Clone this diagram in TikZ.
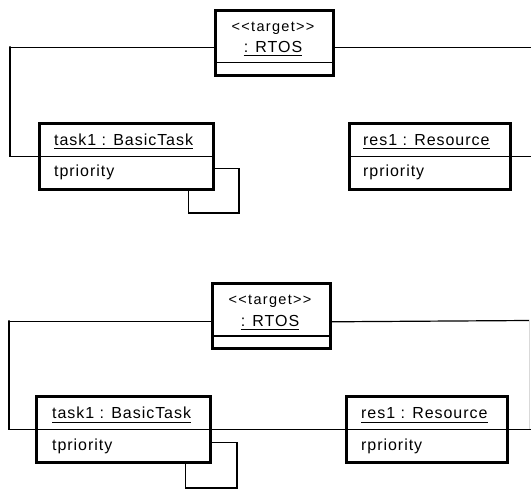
\documentclass[tikz,border=0pt]{standalone}
\usepackage{fontspec}
\newfontfamily\umlfont{Liberation Sans}[LetterSpace=6]
\newfontfamily\stereofont{Liberation Sans}[LetterSpace=9]
\begin{document}
\begin{tikzpicture}[x=1pt,y=-1pt,
  objbox/.style={draw=black,line width=2.6pt,fill=white,inner sep=0pt,anchor=north west},
  sepline/.style={line width=1.1pt},
  conn/.style={line width=1.2pt},
  uline/.style={line width=1pt},
  lbl/.style={inner sep=0pt,anchor=base west,font=\umlfont\fontsize{16}{19}\selectfont},
  stereo/.style={inner sep=0pt,anchor=base,font=\stereofont\fontsize{14.5}{17}\selectfont},
  rname/.style={inner sep=0pt,anchor=base,font=\umlfont\fontsize{16}{19}\selectfont}]
\useasboundingbox (0,0) rectangle (531,489);
\fill[white] (0,0) rectangle (531,489);

% ---------- upper collaboration ----------
\coordinate (ua) at (10,46.5);
\coordinate (ub) at (239,213);
\node[objbox,minimum width=118pt,minimum height=65pt] (rtosA) at (214,9) {};
\node[objbox,minimum width=174pt,minimum height=66pt] (taskA) at (38,122) {};
\node[objbox,minimum width=161pt,minimum height=66pt] (resA) at (348,122) {};

% connectors
\draw[conn] ([yshift=-5pt]rtosA.west) -| (ua) |- (taskA.west);
\draw[conn] ([yshift=-5pt]rtosA.east) -- ([yshift=-5pt]rtosA.east -| 531,0);
\draw[conn] (resA.east) -- (resA.east -| 531,0);
\draw[conn] ([yshift=-12pt]taskA.east) -| (ub) -| ([xshift=-26pt]taskA.south east);

% compartments
\draw[sepline] (rtosA.west |- 0,62.5) -- (rtosA.east |- 0,62.5);
\draw[sepline] (taskA.west) -- (taskA.east);
\draw[sepline] (resA.west) -- (resA.east);

% labels
\node[stereo] (stA) at (273,32) {<<target>>};
\node[rname] (rnA) at (273,53) {: RTOS};
\node[lbl] (tnA) at (54,145.5) {task1 : BasicTask};
\node[lbl] (taA) at (54,177) {tpriority};
\node[lbl] (snA) at (363,145.5) {res1 : Resource};
\node[lbl] (saA) at (363,177) {rpriority};
\draw[uline] ([yshift=-2.7pt]rnA.base west) -- ([yshift=-2.7pt]rnA.base east);
\draw[uline] ([yshift=-3.3pt]tnA.base west) -- ([yshift=-3.3pt]tnA.base east);
\draw[uline] ([yshift=-3.3pt]snA.base west) -- ([yshift=-3.3pt]snA.base east);

% ---------- lower collaboration ----------
\coordinate (la) at (9,320.5);
\coordinate (lb) at (237,488);
\coordinate (lc) at (529.5,320.5);
\node[objbox,minimum width=118pt,minimum height=65pt] (rtosB) at (211,282) {};
\node[objbox,minimum width=174pt,minimum height=66pt] (taskB) at (35,395) {};
\node[objbox,minimum width=161pt,minimum height=66pt] (resB) at (345,395) {};

% connectors
\draw[conn] ([yshift=-6pt]rtosB.west) -| (la) |- (taskB.west);
\draw[conn] ([yshift=-6pt]rtosB.east) -- (lc);
\draw[conn] (taskB.east) -- (resB.west);
\draw[conn] (resB.east) -- (resB.east -| 531,0);
\draw[line width=0.8pt,black!15] (lc) -- (lc |- resB.east);
\draw[conn] ([yshift=-13.5pt]taskB.east) -| (lb) -| ([xshift=-26pt]taskB.south east);

% compartments
\draw[sepline] (rtosB.west |- 0,336) -- (rtosB.east |- 0,336);
\draw[sepline] (taskB.west) -- (taskB.east);
\draw[sepline] (resB.west) -- (resB.east);

% labels
\node[stereo] (stB) at (270,305) {<<target>>};
\node[rname] (rnB) at (270,326.5) {: RTOS};
\node[lbl] (tnB) at (52,419) {task1 : BasicTask};
\node[lbl] (taB) at (52,450.5) {tpriority};
\node[lbl] (snB) at (361,419) {res1 : Resource};
\node[lbl] (saB) at (361,450.5) {rpriority};
\draw[uline] ([yshift=-2.7pt]rnB.base west) -- ([yshift=-2.7pt]rnB.base east);
\draw[uline] ([yshift=-3.3pt]tnB.base west) -- ([yshift=-3.3pt]tnB.base east);
\draw[uline] ([yshift=-3.3pt]snB.base west) -- ([yshift=-3.3pt]snB.base east);
\end{tikzpicture}
\end{document}
